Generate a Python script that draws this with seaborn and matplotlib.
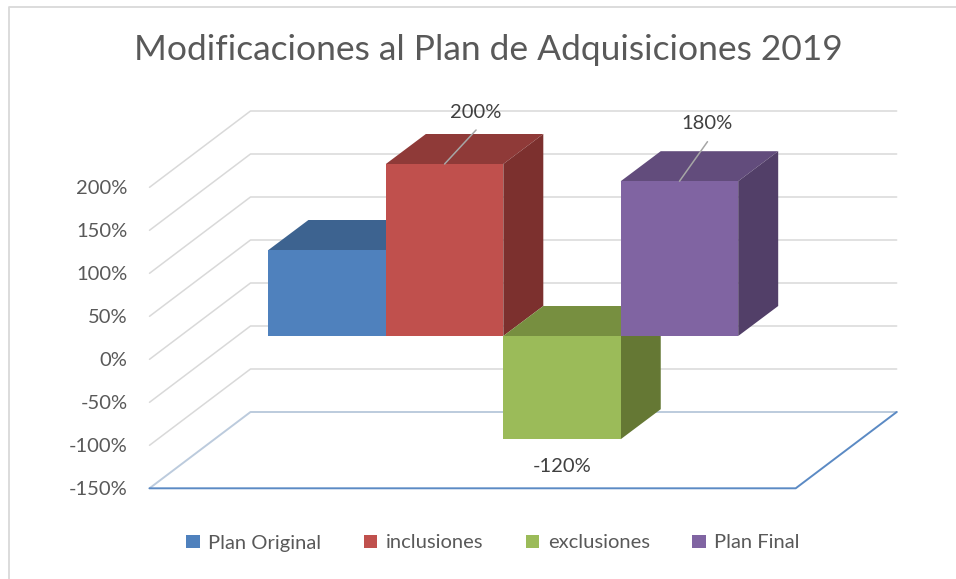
import pandas as pd
import seaborn as sns
import matplotlib.pyplot as plt
from matplotlib.lines import Line2D
from matplotlib.patches import Polygon
from matplotlib.transforms import Affine2D

# Data
series = ['Plan Original', 'inclusiones', 'exclusiones', 'Plan Final']
values = [100, 200, -120, 180]
y_ticks = [-150, -100, -50, 0, 50, 100, 150, 200]
y_tick_labels = ['-150%', '-100%', '-50%', '0%', '50%', '100%', '150%', '200%']
title = 'Modificaciones al Plan de Adquisiciones 2019'

# Colors for each face of the boxes
front_colors = ['#4F81BD', '#C0504D', '#9BBB59', '#8064A2']
top_colors = ['#3D6390', '#8F3A38', '#778F40', '#624C7C']
side_colors = ['#355680', '#7C302E', '#657834', '#523F68']

W, H = 956, 579
sns.set_theme(style="white")
plt.rcParams['font.family'] = ['Lato', 'DejaVu Sans']

fig = plt.figure(figsize=(W / 100, H / 100), dpi=100)

# axes = the plane of the front faces of the boxes, in pixels of the picture
left, right, top, bottom = 180.2, 826.4, 164, 465
ax = fig.add_axes([left / W, 1 - bottom / H, (right - left) / W, (bottom - top) / H])

df = pd.DataFrame({'grupo': [''] * 4, 'serie': series, 'valor': values})
sns.barplot(data=df, x='grupo', y='valor', hue='serie', hue_order=series,
            palette=front_colors, saturation=1, width=0.727, gap=0, ax=ax,
            linewidth=0, errorbar=None)
ax.set_xlim(-0.5, 0.5)
ax.set_ylim(-150, 200)
ax.set_xlabel('')
ax.set_ylabel('')
ax.set_xticks([])
sns.despine(ax=ax, left=True, bottom=True)
ax.patch.set_alpha(0)

# pixels to data units
px_x = 1 / (right - left)
px_y = 350 / (bottom - top)

# Depth of the boxes and of the floor/walls
box_dx, box_dy = 40 * px_x, 30 * px_y
front_dx, front_dy = -30.7 * px_x, -23.3 * px_y
back_dx, back_dy = 70.3 * px_x, 53 * px_y
x0, x1 = -0.5, 0.5

# Gridlines on the side and back wall
for v in y_ticks[1:]:
    ax.plot([x0 + front_dx, x0 + back_dx, x1 + back_dx],
            [v + front_dy, v + back_dy, v + back_dy],
            color='#D9D9D9', lw=1.1, clip_on=False, zorder=1)

# Floor
fl = y_ticks[0]
ax.plot([x0 + front_dx, x0 + back_dx, x1 + back_dx],
        [fl + front_dy, fl + back_dy, fl + back_dy],
        color='#BCCBDD', lw=1.4, clip_on=False, zorder=1.1)
ax.plot([x0 + front_dx, x1 + front_dx, x1 + back_dx],
        [fl + front_dy, fl + front_dy, fl + back_dy],
        color='#5B8AC4', lw=1.4, clip_on=False, zorder=1.2)

# Top and side faces, box by box from left to right
for i, container in enumerate(ax.containers):
    bar = container[0]
    xa = bar.get_x()
    xb = xa + bar.get_width()
    y_top = max(values[i], 0)
    y_low = min(values[i], 0)
    z = 3 + i
    bar.set_zorder(z + 0.5)
    ax.add_patch(Polygon([(xa, y_top), (xb, y_top), (xb + box_dx, y_top + box_dy), (xa + box_dx, y_top + box_dy)],
                         facecolor=top_colors[i], edgecolor='none', clip_on=False, zorder=z))
    ax.add_patch(Polygon([(xb, y_low), (xb, y_top), (xb + box_dx, y_top + box_dy), (xb + box_dx, y_low + box_dy)],
                         facecolor=side_colors[i], edgecolor='none', clip_on=False, zorder=z))

# Data labels with leader lines (no label on the first box)
label_offsets = {1: (31.5, 51, 34), 2: (0, -27.7, 0), 3: (28, 58, 39.5)}
for i, (dx, dy, lead) in label_offsets.items():
    bar = ax.containers[i][0]
    cx = bar.get_x() + bar.get_width() / 2
    ax.annotate(f'{values[i]}%', xy=(cx, values[i]), xytext=(dx, dy), textcoords='offset pixels',
                ha='center', va='center', fontsize=14.5, color='#404040', zorder=20,
                annotation_clip=False)
    if lead:
        ax.annotate('', xy=(cx, values[i]), xytext=(dx, lead), textcoords='offset pixels',
                    arrowprops=dict(arrowstyle='-', color='#A6A6A6', lw=1.1, shrinkA=0, shrinkB=0),
                    zorder=20, annotation_clip=False)

# Y axis, labels moved to the front edge of the side wall
ax.set_yticks(y_ticks)
ax.set_yticklabels(y_tick_labels)
ax.tick_params(axis='y', length=0, pad=38, labelsize=14.5, labelcolor='#595959')
for lab in ax.get_yticklabels():
    lab.set_transform(lab.get_transform() + Affine2D().translate(0, -23.3))

# Legend
handles, labels = ax.get_legend_handles_labels()
ax.legend(handles, labels, loc='center', bbox_to_anchor=(493 / W, 1 - 543 / H),
          bbox_transform=fig.transFigure, ncol=4, frameon=False, fontsize=14.5,
          labelcolor='#595959', handlelength=0.68, handleheight=0.68,
          handletextpad=0.42, columnspacing=2.1, borderpad=0, borderaxespad=0)

# Title
fig.text(488.5 / W, 1 - 50 / H, title, ha='center', va='center',
         fontsize=25.5, color='#595959')

# Chart border, only left and top are inside the picture
fig.add_artist(Line2D([8.5 / W, 8.5 / W, 1], [0, 1 - 6.5 / H, 1 - 6.5 / H],
                      color='#D9D9D9', lw=1.3))

plt.savefig('out.png', dpi=100)
